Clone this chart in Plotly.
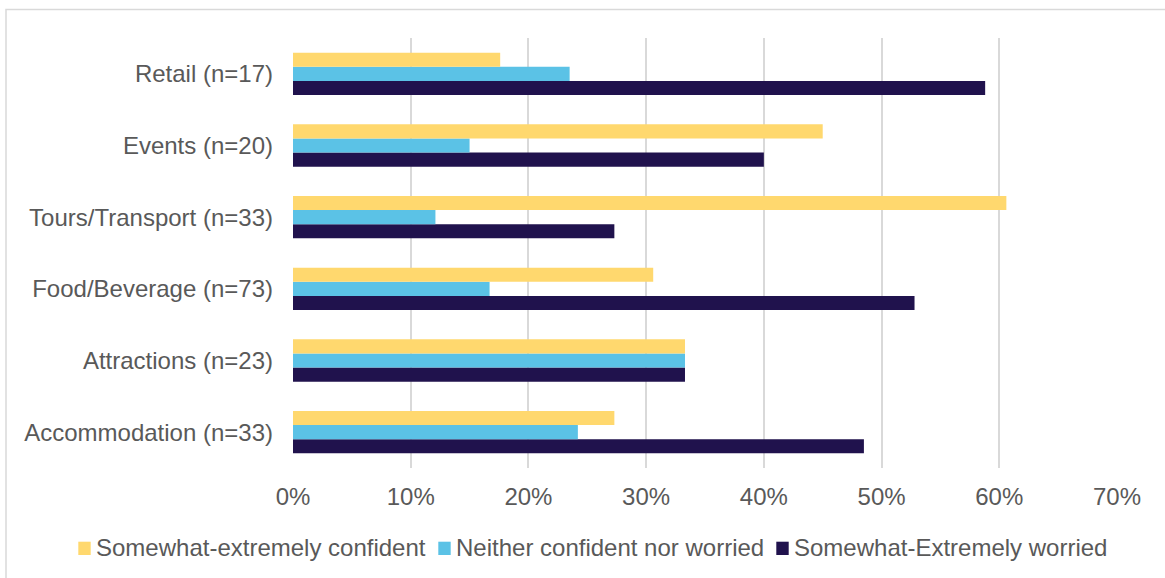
import plotly.graph_objects as go

# Sectors, listed bottom to top as they appear on the axis
categories = [
    "Accommodation (n=33)",
    "Attractions (n=23)",
    "Food/Beverage (n=73)",
    "Tours/Transport (n=33)",
    "Events (n=20)",
    "Retail (n=17)",
]

# Share of respondents (%) per sector
confident = [27.3, 33.3, 30.6, 60.6, 45.0, 17.6]
neither = [24.2, 33.3, 16.7, 12.1, 15.0, 23.5]
worried = [48.5, 33.3, 52.8, 27.3, 40.0, 58.8]

series_names = [
    "Somewhat-extremely confident",
    "Neither confident nor worried",
    "Somewhat-Extremely worried",
]
colors = ["#FFD86E", "#5BC2E6", "#20124D"]

W, H = 1165, 578
ML, MR, MT, MB = 293, 48, 38, 110
FONT = "Arial, Liberation Sans, sans-serif"
TXT = "#595959"
FS = 24

fig = go.Figure()
# Plotly stacks grouped horizontal bars bottom-up, so add worried first
for vals, name, col in [
    (worried, series_names[2], colors[2]),
    (neither, series_names[1], colors[1]),
    (confident, series_names[0], colors[0]),
]:
    fig.add_trace(go.Bar(
        y=categories,
        x=[v / 100 for v in vals],
        orientation="h",
        name=name,
        marker=dict(color=col, line=dict(width=0)),
        showlegend=False,
    ))

pw = W - ML - MR
ph = H - MT - MB


def px_x(p):
    return (p - ML) / pw


def px_y(p):
    return (H - MB - p) / ph


shapes = [
    # outer frame of the chart
    dict(type="rect", xref="paper", yref="paper",
         x0=px_x(6), x1=px_x(1175), y0=px_y(590), y1=px_y(9.5),
         line=dict(color="#D9D9D9", width=1.5), fillcolor="rgba(0,0,0,0)",
         layer="below"),
]
annotations = []

# Legend row: small square swatch followed by its label
legend_sq_x = [78.3, 438.3, 776.3]
for sx, name, col in zip(legend_sq_x, series_names, colors):
    shapes.append(dict(type="rect", xref="paper", yref="paper",
                       x0=px_x(sx), x1=px_x(sx + 12.4),
                       y0=px_y(555), y1=px_y(541.7),
                       line=dict(width=0), fillcolor=col))
    annotations.append(dict(xref="paper", yref="paper",
                            x=px_x(sx + 16), y=px_y(547.5),
                            text=name, showarrow=False,
                            xanchor="left", yanchor="middle",
                            font=dict(family=FONT, size=FS, color=TXT)))

fig.update_layout(
    width=W, height=H,
    margin=dict(l=ML, r=MR, t=MT, b=MB),
    paper_bgcolor="white", plot_bgcolor="white",
    barmode="group",
    bargap=0.41, bargroupgap=0,
    font=dict(family=FONT, size=FS, color=TXT),
    shapes=shapes,
    annotations=annotations,
    xaxis=dict(
        range=[0, 0.7], tickvals=[i / 10 for i in range(8)],
        tickformat=".0%", showgrid=True, gridcolor="#D9D9D9", gridwidth=2,
        zeroline=False, showline=False, ticks="",
        ticklabelstandoff=12,
        tickfont=dict(family=FONT, size=FS, color=TXT),
    ),
    yaxis=dict(
        categoryorder="array", categoryarray=categories,
        showgrid=False, zeroline=False, showline=False, ticks="",
        ticklabelstandoff=19,
        tickfont=dict(family=FONT, size=FS, color=TXT),
    ),
)

fig.write_html("out.html")
